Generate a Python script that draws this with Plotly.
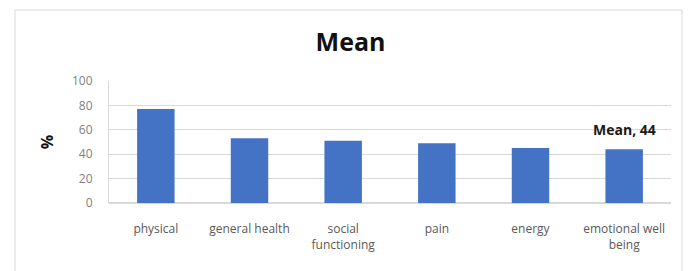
import plotly.graph_objects as go

categories = ["physical", "general health", "social<br>functioning", "pain", "energy", "emotional well<br>being"]
values = [77, 53, 51, 49, 45, 44]
tick_vals = [0, 20, 40, 60, 80, 100]
label_text = "Mean, 44"
label_index = 5

FONT = "Open Sans, Liberation Sans, Arial"

fig = go.Figure(go.Bar(x=categories, y=values, marker=dict(color="#4472C4", line=dict(width=0)), width=0.4))

fig.add_annotation(x=categories[label_index], y=values[label_index], text="<b>" + label_text + "</b>",
                   showarrow=False, yanchor="bottom", yshift=8,
                   font=dict(family=FONT, size=14, color="#1a1a1a"))

fig.add_shape(type="rect", xref="paper", yref="paper", x0=-0.1673, x1=1.0196, y0=-0.7, y1=1.582,
              line=dict(color="#d9d9d9", width=1), fillcolor="rgba(0,0,0,0)", layer="below")

fig.update_layout(
    width=685, height=263,
    margin=dict(l=101, r=22, t=73, b=68, autoexpand=False),
    paper_bgcolor="white", plot_bgcolor="white",
    showlegend=False,
    title=dict(text="<b>Mean</b>", x=0.5, xref="container", xanchor="center", y=1 - 34/263, yanchor="middle",
               font=dict(family=FONT, size=25, color="#111111"), automargin=False),
    font=dict(family=FONT, color="#595959"),
    xaxis=dict(showgrid=False, showline=False, tickfont=dict(size=12, color="#595959"), ticks="",
               ticklabelstandoff=17, automargin=False),
    yaxis=dict(range=[0, 100], tickvals=tick_vals, showgrid=True, gridcolor="#d9d9d9", gridwidth=1,
               showline=True, linecolor="#d9d9d9", linewidth=1, zeroline=True, zerolinecolor="#d9d9d9",
               tickfont=dict(size=12, color="#7f7f7f"), ticklabelstandoff=13, automargin=False,
               title=dict(text="<b>%</b>", font=dict(size=16, color="#111111"), standoff=14)),
)

fig.write_html("out.html")
